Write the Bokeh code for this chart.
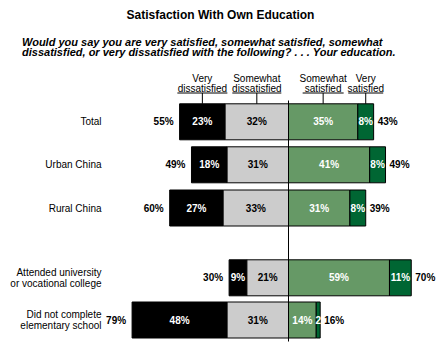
from bokeh.plotting import figure
from bokeh.models import Range1d, Label, ColumnDataSource
from bokeh.core.properties import value
from bokeh.embed import file_html
from bokeh.resources import INLINE

# ---- data ----
categories = ["Total", "Urban China", "Rural China",
              "Attended university\nor vocational college",
              "Did not complete\nelementary school"]
very_dissatisfied = [23, 18, 27, 9, 48]
somewhat_dissatisfied = [32, 31, 33, 21, 31]
somewhat_satisfied = [35, 41, 31, 59, 14]
somewhat_satisfied_drawn = [35, 41, 31, 51, 14]   # bar length as drawn in the reference
very_satisfied = [8, 8, 8, 11, 2]
total_dissatisfied = [55, 49, 60, 30, 79]
total_satisfied = [43, 49, 39, 70, 16]
segment_labels_vs = ["8%", "8%", "8%", "11%", "2"]
headers = ["Very\ndissatisfied", "Somewhat\ndissatisfied", "Somewhat\nsatisfied", "Very\nsatisfied"]
title = "Satisfaction With Own Education"
subtitle = ["Would you say you are very satisfied, somewhat satisfied, somewhat",
            "dissatisfied, or very dissatisfied with the following? . . . Your education."]

# ---- layout (pixels) ----
W, H = 440, 345
ZERO_PX = 288.0
PX_PER_PCT = 1.98
row_y = [121.3, 164.3, 207.5, 277.3, 319.5]
BAR_H = 36
FONT = "Liberation Sans"
BLACK, GREY, GREEN, DKGREEN = "#000000", "#cccccc", "#669966", "#006633"

p = figure(width=W, height=H, output_backend="svg", toolbar_location=None,
           x_range=Range1d(-ZERO_PX / PX_PER_PCT, (W - ZERO_PX) / PX_PER_PCT),
           y_range=Range1d(H, 0), min_border=0,
           min_border_left=0, min_border_right=0, min_border_top=0, min_border_bottom=0)
p.axis.visible = False
p.grid.visible = False
p.outline_line_color = None
p.background_fill_color = "white"
p.border_fill_color = "white"

n = len(categories)
vd_left = [-(a + b) for a, b in zip(very_dissatisfied, somewhat_dissatisfied)]
sd_left = [-b for b in somewhat_dissatisfied]
vs_right = [a + b for a, b in zip(somewhat_satisfied_drawn, very_satisfied)]

src = ColumnDataSource(dict(
    y=row_y, vd_left=vd_left, sd_left=sd_left, zero=[0] * n,
    ss_right=somewhat_satisfied_drawn, vs_right=vs_right,
))

p.hbar(y="y", left="vd_left", right="sd_left", height=BAR_H, source=src,
       fill_color=BLACK, line_color="black", line_width=1)
p.hbar(y="y", left="sd_left", right="zero", height=BAR_H, source=src,
       fill_color=GREY, line_color="black", line_width=1)
p.hbar(y="y", left="zero", right="ss_right", height=BAR_H, source=src,
       fill_color=GREEN, line_color="black", line_width=1)
p.hbar(y="y", left="ss_right", right="vs_right", height=BAR_H, source=src,
       fill_color=DKGREEN, line_color="black", line_width=1)

# zero line
p.segment(x0=[0], y0=[100], x1=[0], y1=[341], line_color="black", line_width=1)

# segment labels
def mid(a, b):
    return [(x + y) / 2 for x, y in zip(a, b)]

def seg_text(xs, texts, color):
    p.text(x=xs, y=row_y, text=texts, text_align="center", text_baseline="middle",
           text_font=value(FONT), text_font_style="bold", text_font_size="10px",
           text_color=color)

seg_text(mid(vd_left, sd_left), [f"{v}%" for v in very_dissatisfied], "white")
seg_text(mid(sd_left, [0] * n), [f"{v}%" for v in somewhat_dissatisfied], "black")
seg_text(mid([0] * n, somewhat_satisfied_drawn), [f"{v}%" for v in somewhat_satisfied], "white")
seg_text(mid(somewhat_satisfied_drawn, vs_right), segment_labels_vs, "white")

# totals
p.text(x=vd_left, y=row_y, text=[f"{v}%" for v in total_dissatisfied], x_offset=-6,
       text_align="right", text_baseline="middle", text_font=value(FONT),
       text_font_style="bold", text_font_size="10px", text_color="black")
p.text(x=vs_right, y=row_y, text=[f"{v}%" for v in total_satisfied], x_offset=4,
       text_align="left", text_baseline="middle", text_font=value(FONT),
       text_font_style="bold", text_font_size="10px", text_color="black")

# category labels
cat_x, cat_y, cat_t = [], [], []
LINE_H = 10.5
for c, yc in zip(categories, row_y):
    lines = c.split("\n")
    k = len(lines)
    for i, ln in enumerate(lines):
        cat_x.append((101 - ZERO_PX) / PX_PER_PCT)
        cat_y.append(yc + (i - (k - 1) / 2) * LINE_H)
        cat_t.append(ln)
p.text(x=cat_x, y=cat_y, text=cat_t, text_align="right", text_baseline="middle",
       text_font=value(FONT), text_font_size="10px", text_color="black")

# column headers (from the Total row)
hdr_centers = [mid(vd_left, sd_left)[0], mid(sd_left, [0] * n)[0],
               mid([0] * n, somewhat_satisfied_drawn)[0], mid(somewhat_satisfied_drawn, vs_right)[0]]
underline_px = [50, 49, 41, 35]
h_x, h_y, h_t = [], [], []
for h, cx in zip(headers, hdr_centers):
    l1, l2 = h.split("\n")
    h_x += [cx, cx]
    h_y += [77.5, 87.5]
    h_t += [l1, l2]
p.text(x=h_x, y=h_y, text=h_t, text_align="center", text_baseline="middle",
       text_font=value(FONT), text_font_size="10px", text_color="black")
p.segment(x0=[cx - u / 2 / PX_PER_PCT for cx, u in zip(hdr_centers, underline_px)],
          x1=[cx + u / 2 / PX_PER_PCT for cx, u in zip(hdr_centers, underline_px)],
          y0=[92.5] * 4, y1=[92.5] * 4, line_color="black", line_width=1)
p.segment(x0=hdr_centers, x1=hdr_centers, y0=[92.5] * 4, y1=[row_y[0] - BAR_H / 2] * 4,
          line_color="black", line_width=1)

# title and subtitle
p.add_layout(Label(x=220, y=H - 14, x_units="screen", y_units="screen", text=title,
                   text_align="center", text_baseline="middle", text_font=FONT,
                   text_font_style="bold", text_font_size="12px", text_color="black"))
for i, s in enumerate(subtitle):
    p.add_layout(Label(x=21.5, y=H - (41 + i * 10.5), x_units="screen", y_units="screen",
                       text=s, text_align="left", text_baseline="middle", text_font=FONT,
                       text_font_style="bold italic", text_font_size="11px", text_color="black"))

open("out.html", "w").write(file_html(p, INLINE))
